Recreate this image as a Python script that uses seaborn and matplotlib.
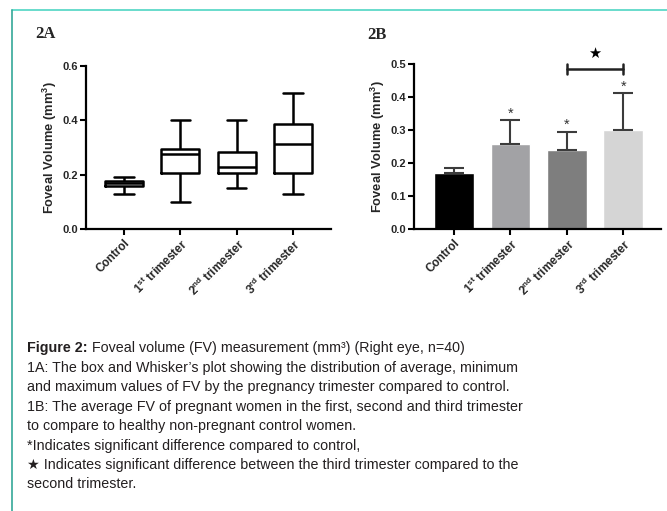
import seaborn as sns
import matplotlib.pyplot as plt
import numpy as np
import pandas as pd
from matplotlib.lines import Line2D

# groups and tick labels (shared by both panels)
groups = ["Control", "1st", "2nd", "3rd"]
tick_labels = ["Control",
               r"1$^{\mathbf{st}}$ trimester",
               r"2$^{\mathbf{nd}}$ trimester",
               r"3$^{\mathbf{rd}}$ trimester"]

# 2A: five-number summaries
box_min = [0.128, 0.098, 0.150, 0.128]
box_q1 = [0.160, 0.205, 0.205, 0.205]
box_med = [0.168, 0.276, 0.229, 0.312]
box_q3 = [0.176, 0.294, 0.285, 0.386]
box_max = [0.190, 0.401, 0.401, 0.502]

# 2B: means and upper error
bar_mean = [0.170, 0.258, 0.241, 0.301]
bar_err = [0.016, 0.073, 0.054, 0.111]
bar_colors = ["#000000", "#a2a2a5", "#7e7e7e", "#d5d5d5"]
sig_control = [False, True, True, True]

caption = [
    "1A: The box and Whisker\u2019s plot showing the distribution of average, minimum",
    "and maximum values of FV by the pregnancy trimester compared to control.",
    "1B: The average FV of pregnant women in the first, second and third trimester",
    "to compare to healthy non-pregnant control women.",
    "*Indicates significant difference compared to control,",
    "\u2605 Indicates significant difference between the third trimester compared to the",
    "second trimester.",
]

sns.set_style("ticks")
plt.rcParams['font.family'] = ['Liberation Sans', 'DejaVu Sans']
plt.rcParams['mathtext.fontset'] = 'custom'
plt.rcParams['mathtext.rm'] = 'Liberation Sans'
plt.rcParams['mathtext.bf'] = 'Liberation Sans:bold'
plt.rcParams['mathtext.it'] = 'Liberation Sans:italic'

W, H = 667, 511
fig = plt.figure(figsize=(W / 100, H / 100), dpi=100)


def px_axes(x0, x1, ytop, ybot):
    return fig.add_axes([x0 / W, 1 - ybot / H, (x1 - x0) / W, (ybot - ytop) / H])


def style_axes(ax, ymax, step):
    sns.despine(ax=ax)
    for s in ["left", "bottom"]:
        ax.spines[s].set_linewidth(1.6)
        ax.spines[s].set_color("black")
    ticks = np.arange(0, ymax + 1e-9, step)
    ax.set_ylim(0, ymax)
    ax.set_yticks(ticks)
    ax.set_yticklabels([f"{v:.1f}" for v in ticks], fontsize=8, fontweight="bold")
    ax.tick_params(axis="both", width=1.5, length=4, pad=1.5, color="black")
    ax.set_xticks(range(len(groups)))
    ax.set_xticklabels(tick_labels, rotation=45, ha="right", rotation_mode="anchor",
                       fontsize=8.5, fontweight="bold")
    ax.set_xlabel("")
    ax.set_ylabel("Foveal Volume (mm$^{\\mathbf{3}}$)", fontsize=9.3,
                  fontweight="bold", labelpad=3)


# ---- panel 2A: box and whisker (min to max) ----
box_df = pd.DataFrame({
    "group": np.repeat(groups, 5),
    "value": np.column_stack([box_min, box_q1, box_med, box_q3, box_max]).ravel(),
})
axA = px_axes(86, 331, 66, 229)
sns.boxplot(data=box_df, x="group", y="value", ax=axA, whis=(0, 100), width=0.68,
            fill=False, color="black", linewidth=1.8, showfliers=False)
axA.set_xlim(-0.675, 3.675)
style_axes(axA, 0.6, 0.2)
fig.text(35 / W, 1 - 34 / H, "2A", family="Liberation Serif", fontweight="bold",
         fontsize=12, va="center", ha="left")

# ---- panel 2B: bar chart with upper error bars ----
axB = px_axes(414, 661, 64.3, 229)
sns.barplot(x=groups, y=bar_mean, hue=groups, palette=bar_colors, legend=False,
            width=0.7, errorbar=None, ax=axB, saturation=1, zorder=2)
xs = np.arange(len(groups))
axB.errorbar(xs, bar_mean, yerr=[np.zeros(len(groups)), bar_err], fmt="none",
             ecolor="#3c3c3c", elinewidth=1.5, capsize=7.2, capthick=1.5, zorder=3)
for x, m, e, s in zip(xs, bar_mean, bar_err, sig_control):
    if s:
        axB.text(x, m + e + 0.008, "*", ha="center", va="baseline", fontsize=10.5,
                 color="#333333")
axB.set_xlim(-0.71, 3.67)
style_axes(axB, 0.5, 0.1)

# bracket between 2nd and 3rd trimester
yb = 0.486
axB.plot([2, 3], [yb, yb], color="#222222", lw=1.8, clip_on=False)
axB.plot([2, 2], [yb - 0.014, yb + 0.014], color="#222222", lw=1.8, clip_on=False)
axB.plot([3, 3], [yb - 0.014, yb + 0.014], color="#222222", lw=1.8, clip_on=False)
axB.text(2.5, yb + 0.048, "\u2605", ha="center", va="center", fontsize=10.5,
         family="DejaVu Sans", color="black", clip_on=False)
fig.text(367 / W, 1 - 35 / H, "2B", family="Liberation Serif", fontweight="bold",
         fontsize=12, va="center", ha="left")

# ---- caption ----
cap_fam = ["Liberation Sans", "DejaVu Sans"]
cap_col = "#231f20"
cap_fs = 10.3
t1 = fig.text(27 / W, 1 - 348 / H, "Figure 2:", family=cap_fam, fontweight="bold",
              fontsize=cap_fs, va="center", ha="left", color=cap_col)
plt.annotate(" Foveal volume (FV) measurement (mm\u00b3) (Right eye, n=40)",
             xy=(1, 0), xycoords=t1, va="bottom", ha="left", family=cap_fam,
             fontsize=cap_fs, color=cap_col)
for i, line in enumerate(caption):
    fig.text(27 / W, 1 - (368 + 19.4 * i) / H, line, family=cap_fam, fontsize=cap_fs,
             va="center", ha="left", color=cap_col)

# frame lines of the figure panel
fig.add_artist(Line2D([12 / W, 1], [1 - 10.5 / H, 1 - 10.5 / H], color="#4fd6c4", lw=1.2))
fig.add_artist(Line2D([12 / W, 12 / W], [0, 1 - 10.5 / H], color="#35a898", lw=1.2))

fig.savefig("out.png", dpi=100)
